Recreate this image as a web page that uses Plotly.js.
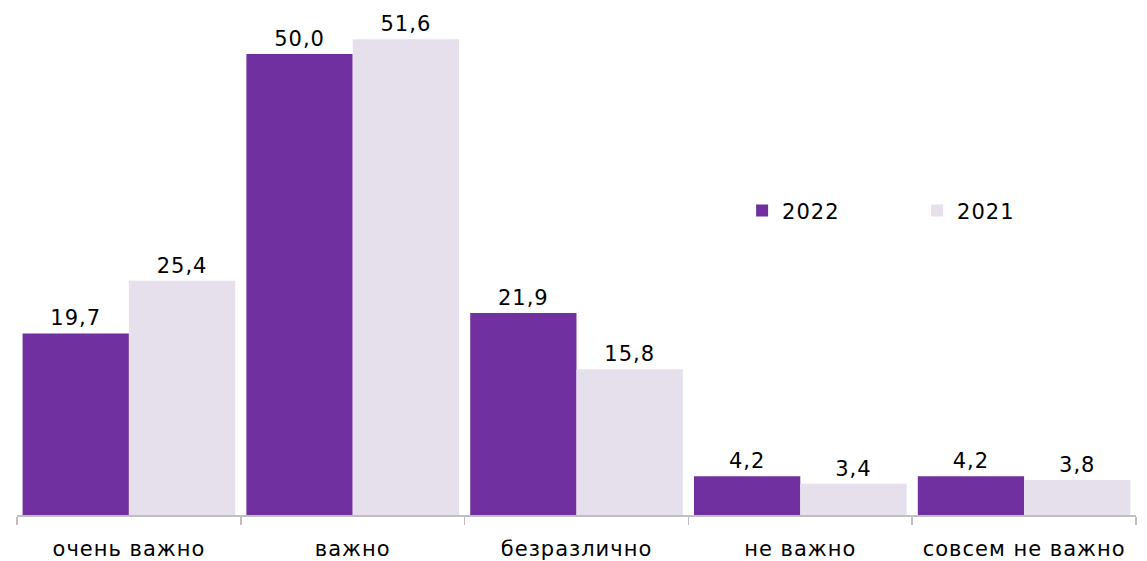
<!DOCTYPE html>
<html><head><meta charset="utf-8">
<script src="https://cdn.plot.ly/plotly-3.0.1.min.js"></script>
<style>html,body{margin:0;padding:0;background:#fff;}#chart{width:1147px;height:561px;}
#chart text{letter-spacing:1px;}</style>
</head><body><div id="chart"></div>
<script>
const categories = ["очень важно", "важно", "безразлично", "не важно", "совсем не важно"];
const values2022 = [19.7, 50.0, 21.9, 4.2, 4.2];
const values2021 = [25.4, 51.6, 15.8, 3.4, 3.8];
const seriesNames = ["2022", "2021"];
const colors = ["#7030A0", "#E6E0EC"];

const font = {family: "DejaVu Sans, sans-serif", size: 21, color: "#000"};
const traces = [
  {type: "bar", name: seriesNames[0], x: categories, y: values2022,
   marker: {color: colors[0]},
   texttemplate: "%{y:.1f}", textposition: "outside",
   textfont: font, cliponaxis: false, hoverinfo: "skip"},
  {type: "bar", name: seriesNames[1], x: categories, y: values2021,
   marker: {color: colors[1]},
   texttemplate: "%{y:.1f}", textposition: "outside",
   textfont: font, cliponaxis: false, hoverinfo: "skip"}
];
const layout = {
  width: 1147, height: 561,
  margin: {l: 17, r: 11, t: 8, b: 46, autoexpand: false},
  paper_bgcolor: "#fff", plot_bgcolor: "#fff",
  separators: ", ",
  barmode: "group", bargap: 0.05, bargroupgap: 0,
  font: font,
  showlegend: true,
  legend: {orientation: "h", x: 0.648, y: 0.60, xanchor: "left", yanchor: "middle",
           entrywidth: 130, font: font, itemwidth: 30, bgcolor: "rgba(0,0,0,0)"},
  xaxis: {type: "category", showline: true, linecolor: "#BFBFBF", linewidth: 1.5,
          ticks: "outside", tickson: "boundaries", ticklen: 8, tickcolor: "#BFBFBF",
          tickwidth: 1.5, showgrid: false, tickfont: font, ticklabelstandoff: 14},
  yaxis: {range: [0, 55], visible: false, showgrid: false, zeroline: false}
};
Plotly.newPlot("chart", traces, layout, {displayModeBar: false, staticPlot: true});
</script></body></html>
